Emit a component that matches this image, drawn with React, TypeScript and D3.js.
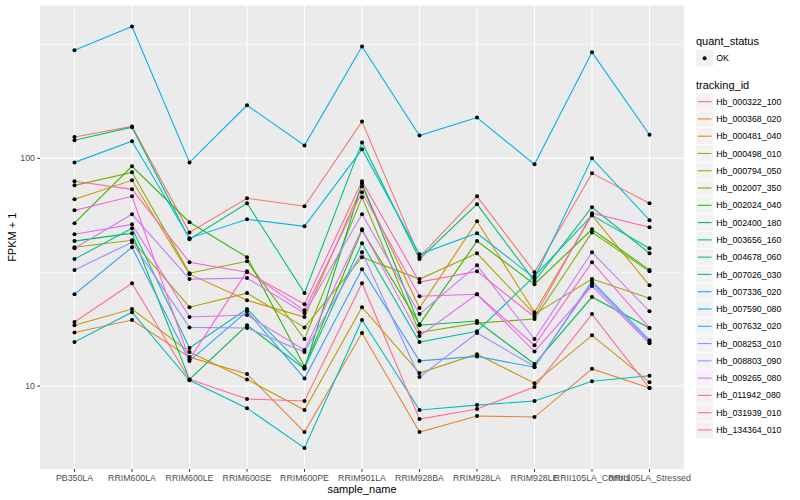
import { useEffect, useRef } from "react";
import * as d3 from "d3";

// sample order on the x axis
const samples = [
  "PB350LA",
  "RRIM600LA",
  "RRIM600LE",
  "RRIM600SE",
  "RRIM600PE",
  "RRIM901LA",
  "RRIM928BA",
  "RRIM928LA",
  "RRIM928LE",
  "RRII105LA_Control",
  "RRII105LA_Stressed",
];

const trackingIds = [
  "Hb_000322_100",
  "Hb_000368_020",
  "Hb_000481_040",
  "Hb_000498_010",
  "Hb_000794_050",
  "Hb_002007_350",
  "Hb_002024_040",
  "Hb_002400_180",
  "Hb_003656_160",
  "Hb_004678_060",
  "Hb_007026_030",
  "Hb_007336_020",
  "Hb_007590_080",
  "Hb_007632_020",
  "Hb_008253_010",
  "Hb_008803_090",
  "Hb_009265_080",
  "Hb_011942_080",
  "Hb_031939_010",
  "Hb_134364_010",
];

// FPKM + 1 per sample
const hb000322 = [124, 138, 47.3, 66.8, 61.6, 145, 36.8, 68.1, 31.6, 85.9, 63.5];
const hb000368 = [17.2, 19.5, 13.4, 11.3, 6.28, 17.1, 6.28, 7.39, 7.31, 11.9, 9.8];
const hb000481 = [66.1, 80.1, 31.0, 23.8, 20.1, 75.4, 22.0, 52.9, 21.1, 56.2, 27.7];
const hb000498 = [18.5, 21.8, 14.1, 10.7, 7.85, 22.2, 11.4, 13.8, 10.3, 16.7, 10.4];
const hb000794 = [40.7, 43.7, 22.2, 25.6, 18.1, 36.8, 29.5, 38.3, 20.7, 29.5, 24.3];
const hb002007 = [76.1, 86.8, 31.3, 35.3, 16.1, 67.4, 17.2, 18.9, 19.7, 47.3, 31.9];
const hb002024 = [51.9, 92.2, 52.4, 36.8, 12.2, 48.3, 18.7, 43.3, 28.0, 48.8, 32.3];
const hb002400 = [43.3, 46.9, 10.7, 18.5, 11.9, 77.7, 18.5, 19.3, 12.5, 24.6, 18.0];
const hb003656 = [120, 137, 44.1, 63.5, 25.6, 117.5, 36.1, 62.9, 28.9, 61.0, 38.3];
const hb004678 = [36.1, 49.3, 14.7, 21.8, 12.0, 42.4, 15.6, 17.4, 30.4, 56.2, 40.3];
const hb007026 = [15.6, 21.1, 10.6, 8.0, 5.35, 19.5, 7.85, 8.25, 8.6, 10.5, 11.1];
const hb007336 = [96.0, 119, 44.6, 54.0, 50.3, 109.5, 37.9, 46.9, 29.8, 100, 53.5];
const hb007590 = [298, 379, 96.0, 171, 114, 310, 126, 151, 94.1, 292, 127];
const hb007632 = [25.3, 40.7, 12.9, 21.3, 10.8, 32.6, 12.9, 13.5, 12.1, 28.9, 15.9];
const hb008253 = [32.3, 42.8, 18.1, 18.0, 14.1, 38.7, 10.95, 17.1, 12.2, 28.3, 15.6];
const hb008803 = [40.3, 56.8, 29.5, 29.8, 20.9, 56.8, 20.7, 33.9, 16.1, 38.7, 21.3];
const hb009265 = [46.4, 51.3, 20.1, 20.5, 14.4, 48.8, 16.6, 25.3, 14.2, 27.5, 15.4];
const hb011942 = [59.1, 68.1, 13.1, 31.9, 21.5, 70.9, 24.8, 25.3, 15.1, 35.0, 18.0];
const hb031939 = [79.3, 73.1, 35.0, 31.6, 22.9, 79.3, 28.6, 31.9, 20.1, 57.4, 49.8];
const hb134364 = [19.1, 28.3, 10.7, 8.77, 8.6, 28.3, 7.16, 7.93, 9.9, 20.7, 9.8];

const seriesValues = [
  hb000322, hb000368, hb000481, hb000498, hb000794,
  hb002007, hb002024, hb002400, hb003656, hb004678,
  hb007026, hb007336, hb007590, hb007632, hb008253,
  hb008803, hb009265, hb011942, hb031939, hb134364,
];

// ggplot default hue palette for 20 levels
const palette = [
  "#F8766D", "#EA8331", "#D89000", "#C09B00", "#A3A500",
  "#7CAE00", "#39B600", "#00BB4E", "#00BF7D", "#00C1A3",
  "#00BFC4", "#00BAE0", "#00B0F6", "#35A2FF", "#9590FF",
  "#C77CFF", "#E76BF3", "#FA62DB", "#FF62BC", "#FF6C91",
];

const yTicks = [10, 100];
const yMinor = [Math.sqrt(10) * 10, Math.sqrt(10) * 100, Math.sqrt(10)];

const W = 800;
const H = 500;
const FONT = "'Liberation Sans', Arial, Helvetica, sans-serif";

export default function App() {
  const svgRef = useRef<SVGSVGElement | null>(null);

  useEffect(() => {
    const svg = d3.select(svgRef.current);
    svg.selectAll("*").remove();

    const left = 40;
    const right = 684;
    const top = 5.5;
    const bottom = 469;

    const x = d3
      .scalePoint<string>()
      .domain(samples)
      .range([left, right])
      .padding(0.6);

    const all = seriesValues.flat();
    const lo = Math.log10(d3.min(all) as number);
    const hi = Math.log10(d3.max(all) as number);
    const pad = (hi - lo) * 0.05;
    const y = d3
      .scaleLog()
      .domain([Math.pow(10, lo - pad), Math.pow(10, hi + pad)])
      .range([bottom, top]);

    // panel
    svg
      .append("rect")
      .attr("x", left)
      .attr("y", top)
      .attr("width", right - left)
      .attr("height", bottom - top)
      .attr("fill", "#EBEBEB");

    const grid = svg.append("g");
    const [d0, d1] = y.domain();
    yMinor
      .filter((v) => v >= d0 && v <= d1)
      .forEach((v) => {
        grid
          .append("line")
          .attr("x1", left)
          .attr("x2", right)
          .attr("y1", y(v))
          .attr("y2", y(v))
          .attr("stroke", "#fff")
          .attr("stroke-width", 0.55);
      });
    yTicks.forEach((v) => {
      grid
        .append("line")
        .attr("x1", left)
        .attr("x2", right)
        .attr("y1", y(v))
        .attr("y2", y(v))
        .attr("stroke", "#fff")
        .attr("stroke-width", 1.1);
    });
    samples.forEach((s) => {
      grid
        .append("line")
        .attr("x1", x(s)!)
        .attr("x2", x(s)!)
        .attr("y1", top)
        .attr("y2", bottom)
        .attr("stroke", "#fff")
        .attr("stroke-width", 1.1);
    });

    // lines
    const line = d3
      .line<number>()
      .x((_, i) => x(samples[i])!)
      .y((d) => y(d));

    seriesValues.forEach((vals, i) => {
      svg
        .append("path")
        .attr("d", line(vals))
        .attr("fill", "none")
        .attr("stroke", palette[i])
        .attr("stroke-width", 1.1);
    });

    // points
    seriesValues.forEach((vals) => {
      svg
        .append("g")
        .selectAll("circle")
        .data(vals)
        .enter()
        .append("circle")
        .attr("cx", (_, i) => x(samples[i])!)
        .attr("cy", (d) => y(d))
        .attr("r", 2)
        .attr("fill", "#000");
    });

    // y axis
    yTicks.forEach((v) => {
      svg
        .append("line")
        .attr("x1", left - 2.75)
        .attr("x2", left)
        .attr("y1", y(v))
        .attr("y2", y(v))
        .attr("stroke", "#333");
      svg
        .append("text")
        .attr("x", left - 5)
        .attr("y", y(v))
        .attr("dy", "0.35em")
        .attr("text-anchor", "end")
        .style("font-family", FONT)
        .style("font-size", "8.8px")
        .attr("fill", "#4D4D4D")
        .text(String(v));
    });

    // x axis
    samples.forEach((s) => {
      svg
        .append("line")
        .attr("x1", x(s)!)
        .attr("x2", x(s)!)
        .attr("y1", bottom)
        .attr("y2", bottom + 2.75)
        .attr("stroke", "#333");
      svg
        .append("text")
        .attr("x", x(s)!)
        .attr("y", bottom + 11.5)
        .attr("text-anchor", "middle")
        .style("font-family", FONT)
        .style("font-size", "8.8px")
        .attr("fill", "#4D4D4D")
        .text(s);
    });

    svg
      .append("text")
      .attr("x", (left + right) / 2)
      .attr("y", 493)
      .attr("text-anchor", "middle")
      .style("font-family", FONT)
      .style("font-size", "11px")
      .text("sample_name");

    svg
      .append("text")
      .attr("transform", `translate(16, ${(top + bottom) / 2}) rotate(-90)`)
      .attr("text-anchor", "middle")
      .style("font-family", FONT)
      .style("font-size", "11px")
      .text("FPKM + 1");

    // legends
    const lx = 696;
    const key = 17.28;
    const lg = svg.append("g").style("font-family", FONT);

    lg.append("text")
      .attr("x", lx)
      .attr("y", 45)
      .style("font-size", "11px")
      .text("quant_status");
    lg.append("rect")
      .attr("x", lx)
      .attr("y", 49.5)
      .attr("width", key)
      .attr("height", key)
      .attr("fill", "#F2F2F2")
      .attr("stroke", "#fff")
      .attr("stroke-width", 0.6);
    lg.append("circle")
      .attr("cx", lx + key / 2)
      .attr("cy", 49.5 + key / 2)
      .attr("r", 2)
      .attr("fill", "#000");
    lg.append("text")
      .attr("x", lx + key + 3)
      .attr("y", 49.5 + key / 2)
      .attr("dy", "0.35em")
      .style("font-size", "8.8px")
      .text("OK");

    lg.append("text")
      .attr("x", lx)
      .attr("y", 89)
      .style("font-size", "11px")
      .text("tracking_id");

    const k0 = 93;
    trackingIds.forEach((id, i) => {
      const ky = k0 + i * key;
      lg.append("rect")
        .attr("x", lx)
        .attr("y", ky)
        .attr("width", key)
        .attr("height", key)
        .attr("fill", "#F2F2F2")
        .attr("stroke", "#fff")
        .attr("stroke-width", 0.6);
      lg.append("line")
        .attr("x1", lx + 1.7)
        .attr("x2", lx + key - 1.7)
        .attr("y1", ky + key / 2)
        .attr("y2", ky + key / 2)
        .attr("stroke", palette[i])
        .attr("stroke-width", 1.1);
      lg.append("text")
        .attr("x", lx + key + 3)
        .attr("y", ky + key / 2)
        .attr("dy", "0.35em")
        .style("font-size", "8.8px")
        .text(id);
    });
  }, []);

  return (
    <svg
      ref={svgRef}
      width={W}
      height={H}
      style={{ position: "absolute", left: 0, top: 0, background: "#fff" }}
    />
  );
}
